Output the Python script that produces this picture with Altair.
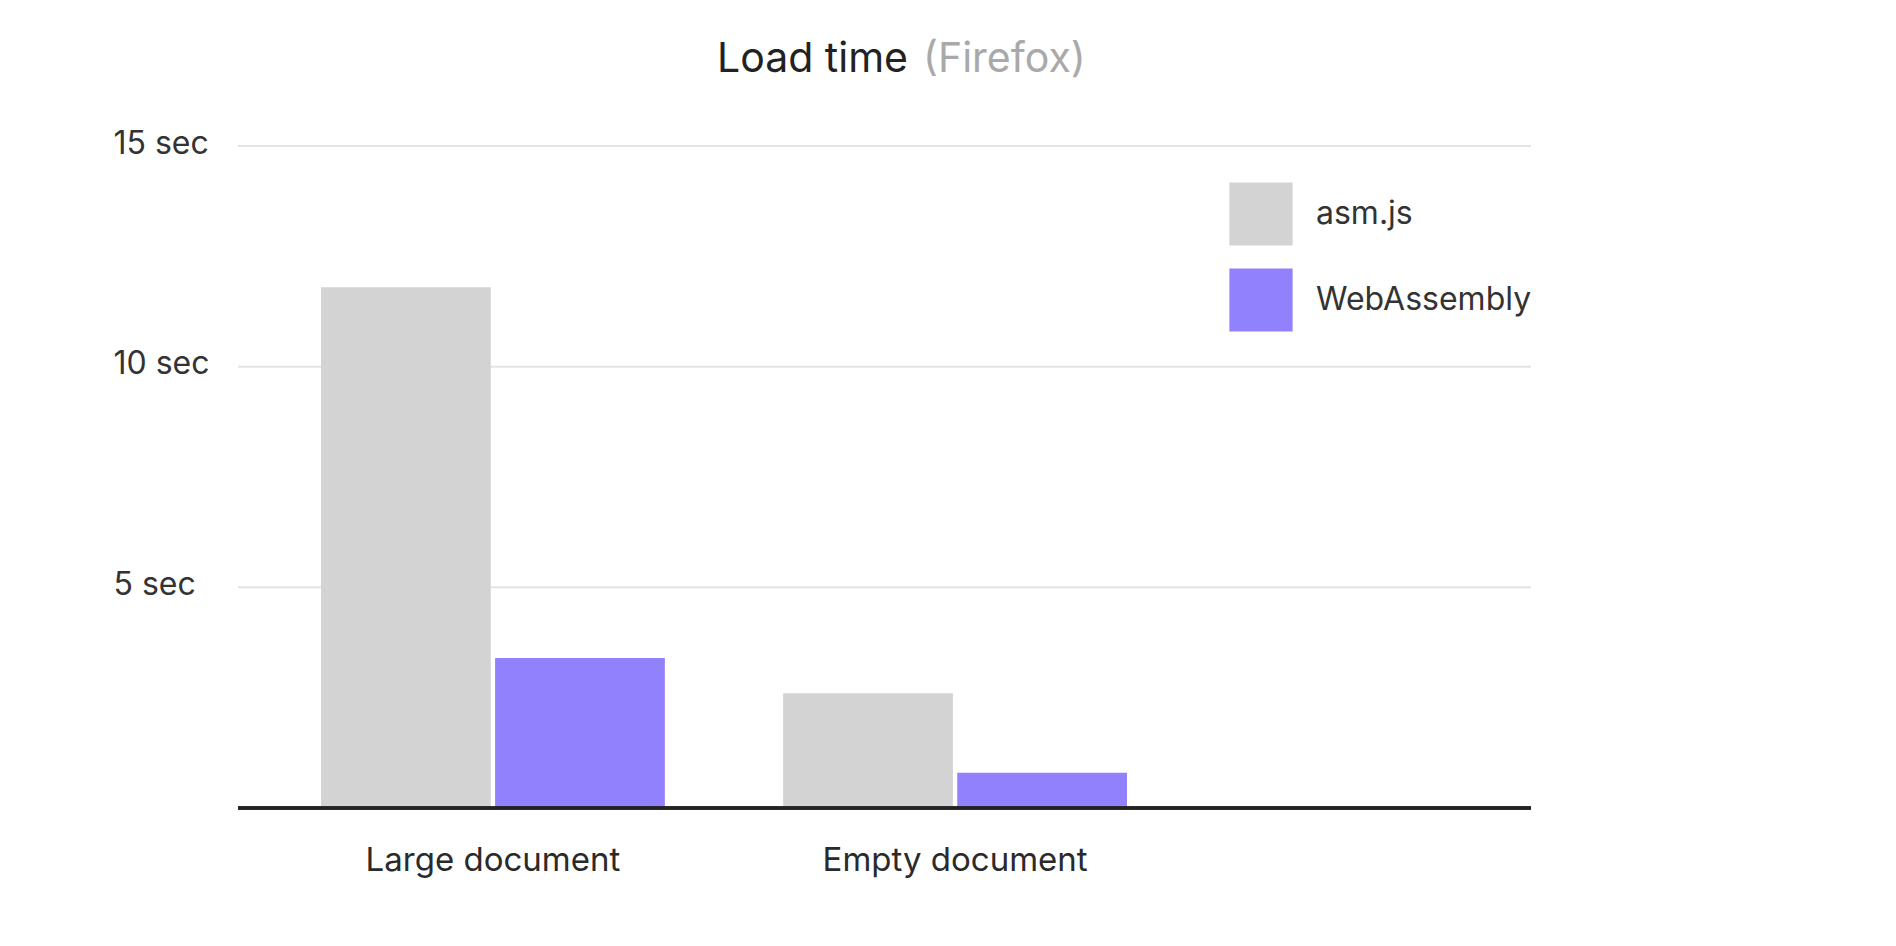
import altair as alt
import pandas as pd

DOCS = ["Large document", "Empty document"]
ENGINES = ["asm.js", "WebAssembly"]
ASM_JS = [11.8, 2.6]
WEBASSEMBLY = [3.4, 0.8]
COLORS = ["#d3d3d4", "#9281fc"]
TITLE_MAIN = "Load time"
TITLE_SUB = "(Firefox)"
Y_TICKS = [5, 10, 15]

rows = []
for d, a, w in zip(DOCS, ASM_JS, WEBASSEMBLY):
    rows.append({"doc": d, "engine": ENGINES[0], "sec": a})
    rows.append({"doc": d, "engine": ENGINES[1], "sec": w})
df = pd.DataFrame(rows)

FONT = "Inter"
W, H = 1293, 662
YSCALE = alt.Scale(domain=[0, 15], nice=False)

grid = alt.Chart(pd.DataFrame({"v": Y_TICKS})).mark_rule(color="#e4e4e4", strokeWidth=2).encode(
    y=alt.Y("v:Q", scale=YSCALE), x=alt.value(0), x2=alt.value(W)
)

bars = alt.Chart(df).mark_bar().encode(
    x=alt.X("doc:N", sort=DOCS,
            scale=alt.Scale(domain=DOCS, range=[83, 889], paddingInner=0.256, paddingOuter=0),
            axis=alt.Axis(title=None, domain=False, ticks=False, tickSize=0, grid=False,
                          labelAngle=0, labelFontSize=33, labelColor="#2a2a2a", labelLimit=0,
                          labelBaseline="alphabetic", labelPadding=62, labelFont=FONT)),
    xOffset=alt.XOffset("engine:N", sort=ENGINES,
                        scale=alt.Scale(domain=ENGINES, paddingInner=0.025, paddingOuter=0)),
    y=alt.Y("sec:Q", scale=YSCALE,
            axis=alt.Axis(title=None, values=Y_TICKS, grid=False,
                          domain=False, ticks=False, tickSize=0, labelAlign="left",
                          labelPadding=125, labelFontSize=32, labelColor="#333333",
                          labelBaseline="middle", labelOffset=-3,
                          labelExpr="datum.value + ' sec'", labelFont=FONT)),
    color=alt.Color("engine:N", sort=ENGINES,
                    scale=alt.Scale(domain=ENGINES, range=COLORS),
                    legend=alt.Legend(title=None, orient="none", legendX=991, legendY=36,
                                      symbolType="square", symbolSize=4000, symbolStrokeWidth=0,
                                      symbolOpacity=1, labelFontSize=32, labelColor="#333333",
                                      labelFont=FONT, labelLimit=0, rowPadding=22, labelOffset=23,
                                      padding=0)),
)

baseline = alt.Chart(df).mark_rule(color="#222222", strokeWidth=3).encode(
    y=alt.datum(0), x=alt.value(0), x2=alt.value(W)
)

t1 = alt.Chart(pd.DataFrame({"t": [TITLE_MAIN]})).mark_text(
    align="right", baseline="alphabetic", fontSize=41, color="#222222", font=FONT
).encode(text="t:N", x=alt.value(670), y=alt.value(-74))

t2 = alt.Chart(pd.DataFrame({"t": [TITLE_SUB]})).mark_text(
    align="left", baseline="alphabetic", fontSize=41, color="#a9a9a9", font=FONT
).encode(text="t:N", x=alt.value(685), y=alt.value(-74))

chart = alt.layer(grid, bars, baseline, t1, t2).properties(
    width=W, height=H,
    autosize=alt.AutoSizeParams(type="none"),
    padding={"left": 238, "top": 146, "right": 365, "bottom": 138},
    background="white",
).configure_view(stroke=None)

chart.save("out.html", embed_options={"renderer": "svg", "actions": False})
